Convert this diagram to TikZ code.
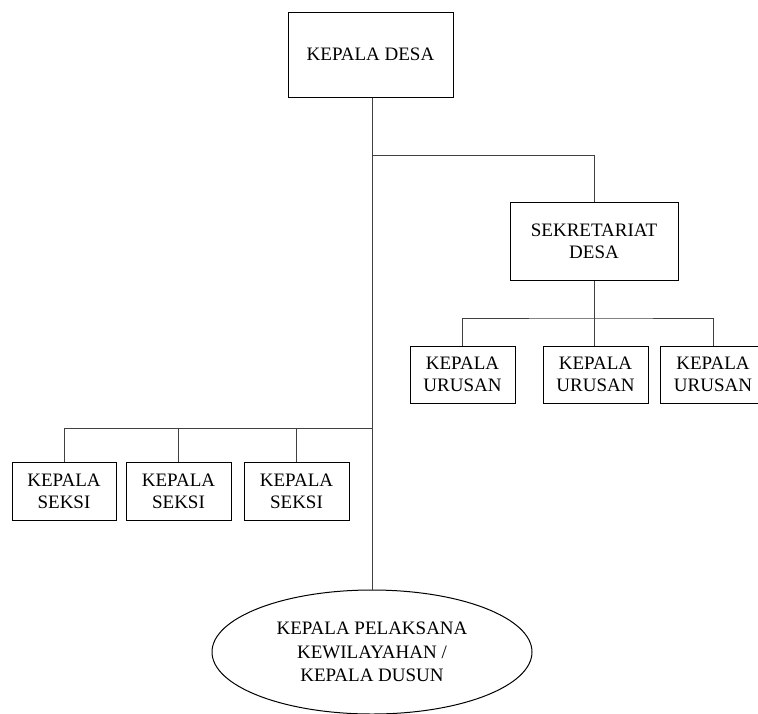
\documentclass[tikz,border=0pt]{standalone}
\usepackage{fontspec}
\setmainfont{Liberation Serif}
\usetikzlibrary{shapes.geometric}
\begin{document}
\begin{tikzpicture}[x=1pt,y=-1pt,
  box/.style={draw, line width=1pt, rectangle, inner sep=0pt, align=center, font=\fontsize{19}{22}\selectfont},
  conn/.style={draw, line width=1pt, color=black!75}]
\useasboundingbox (0,0) rectangle (758,713);
\clip (0,0) rectangle (758,713);
\node[box, minimum width=165pt, minimum height=85pt] (kd) at (370.5,54.5) {KEPALA DESA};
\node[box, minimum width=168pt, minimum height=78pt] (sek) at (594,241) {SEKRETARIAT\\DESA};
\node[box, minimum width=105pt, minimum height=57pt] (u1) at (462.5,374.5) {KEPALA\\URUSAN};
\node[box, minimum width=105pt, minimum height=57pt] (u2) at (595.5,374.5) {KEPALA\\URUSAN};
\node[box, minimum width=106pt, minimum height=57pt] (u3) at (713,374.5) {KEPALA\\URUSAN};
\node[box, minimum width=104pt, minimum height=58pt] (s1) at (64,491) {KEPALA\\SEKSI};
\node[box, minimum width=105pt, minimum height=58pt] (s2) at (178.5,491) {KEPALA\\SEKSI};
\node[box, minimum width=105pt, minimum height=58pt] (s3) at (296.5,491) {KEPALA\\SEKSI};
\node[draw, line width=1pt, ellipse, minimum width=320pt, minimum height=124pt, inner sep=0pt, align=center, font=\fontsize{19}{23.5}\selectfont] (dus) at (372,652) {KEPALA PELAKSANA\\KEWILAYAHAN /\\KEPALA DUSUN};
\coordinate (j1) at (372,155);
\coordinate (j2) at (594,318);
\coordinate (j3) at (372,428);
\draw[conn] (kd.south -| j1) -- (dus.north);
\draw[conn] (j1) -| (sek.north);
\draw[conn] (sek.south) -- (j2);
\draw[conn] (u1.north) |- (j2) -| (u3.north);
\draw[conn] (j2) -- (j2 |- u2.north);
\draw[conn] (s1.north) |- (j3);
\draw[conn] (s2.north) -- (s2.north |- j3);
\draw[conn] (s3.north) -- (s3.north |- j3);
\end{tikzpicture}
\end{document}
